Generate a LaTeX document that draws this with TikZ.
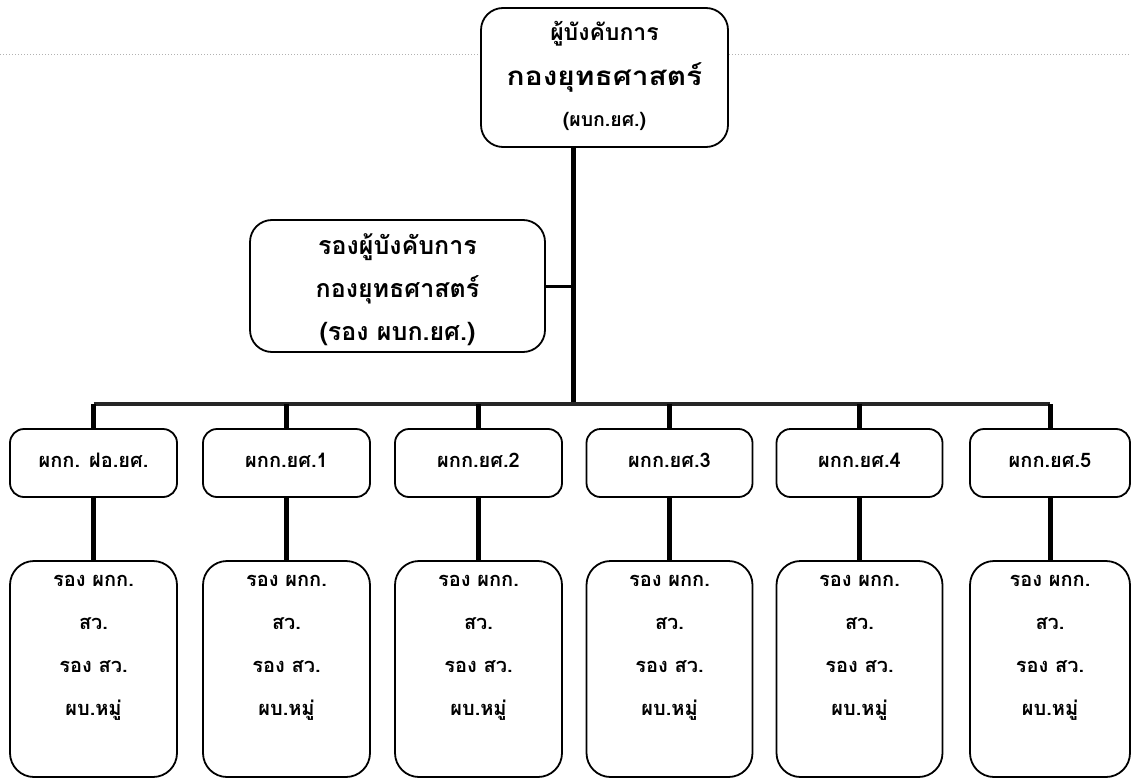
\documentclass[tikz,border=0pt]{standalone}
\usepackage{fontspec}
\usepackage{graphicx}
\newfontfamily\thaifont[Script=Thai]{Loma}
\begin{document}
\begin{tikzpicture}[x=1pt,y=-1pt,
  box/.style={draw, line width=1.8pt, rounded corners=#1, fill=white, inner sep=0pt},
  box/.default=16pt,
  lbl/.style={align=center, inner sep=0pt,
    font=\thaifont\bfseries\fontsize{20}{43}\selectfont},
  big/.style={lbl, font=\thaifont\bfseries\fontsize{#1}{43}\selectfont},
  link/.style={line width=5pt},
  sidelink/.style={line width=3pt},
  bus/.style={line width=4pt, black!85},
  guide/.style={gray!60, dotted, line width=1pt},
]
\useasboundingbox (0,0) rectangle (1131,778);

% page guide line behind the top box
\coordinate (gl) at (0,55);
\coordinate (gr) at (1131,55);
\draw[guide] (gl) -- (gr);

% commander
\node[box=22pt, minimum width=247pt, minimum height=139pt] (top) at (604.5,77.5) {};
\node[big=23] (toptxt1) at (604.5,34) {ผู้บังคับการ};
\node[big=26] (toptxt2) at (604.5,77) {\scalebox{1.15}[1]{กองยุทธศาสตร์}};
\node[big=19.5] (toptxt3) at (604.5,121) {(ผบก.ยศ.)};

% deputy commander
\node[box=22pt, minimum width=295pt, minimum height=132pt] (dep) at (397.5,286) {};
\node[big=25] (deptxt) at (397.5,290) {รองผู้บังคับการ\\กองยุทธศาสตร์\\(รอง ผบก.ยศ.)};

% divisions and their staff
\foreach \i/\x/\w/\t in {1/93.5/167/{ผกก. ฝอ.ยศ.},
                          2/286.5/167/{ผกก.ยศ.1},
                          3/478.5/167/{ผกก.ยศ.2},
                          4/669.5/166/{ผกก.ยศ.3},
                          5/859.5/166/{ผกก.ยศ.4},
                          6/1050/160/{ผกก.ยศ.5}} {
  \node[box=14pt, minimum width=\w pt, minimum height=68pt] (d\i) at (\x,463) {};
  \node[lbl] (dt\i) at (\x,460) {\t};
  \node[box=24pt, minimum width=\w pt, minimum height=216pt] (s\i) at (\x,669) {};
  \node[lbl] (st\i) at (\x,648) {รอง ผกก.\\สว.\\รอง สว.\\ผบ.หมู่};
}

% connectors
\coordinate (bj) at (573,404);
\draw[link] (top.south -| bj) -- (bj);
\draw[sidelink] (dep.east) -- (dep.east -| bj);
\draw[bus] (d1.north |- bj) -- (d6.north |- bj);
\foreach \i in {1,...,6} {
  \draw[link] (d\i.north |- bj) -- (d\i.north);
  \draw[link] (d\i.south) -- (s\i.north);
}
\end{tikzpicture}
\end{document}
